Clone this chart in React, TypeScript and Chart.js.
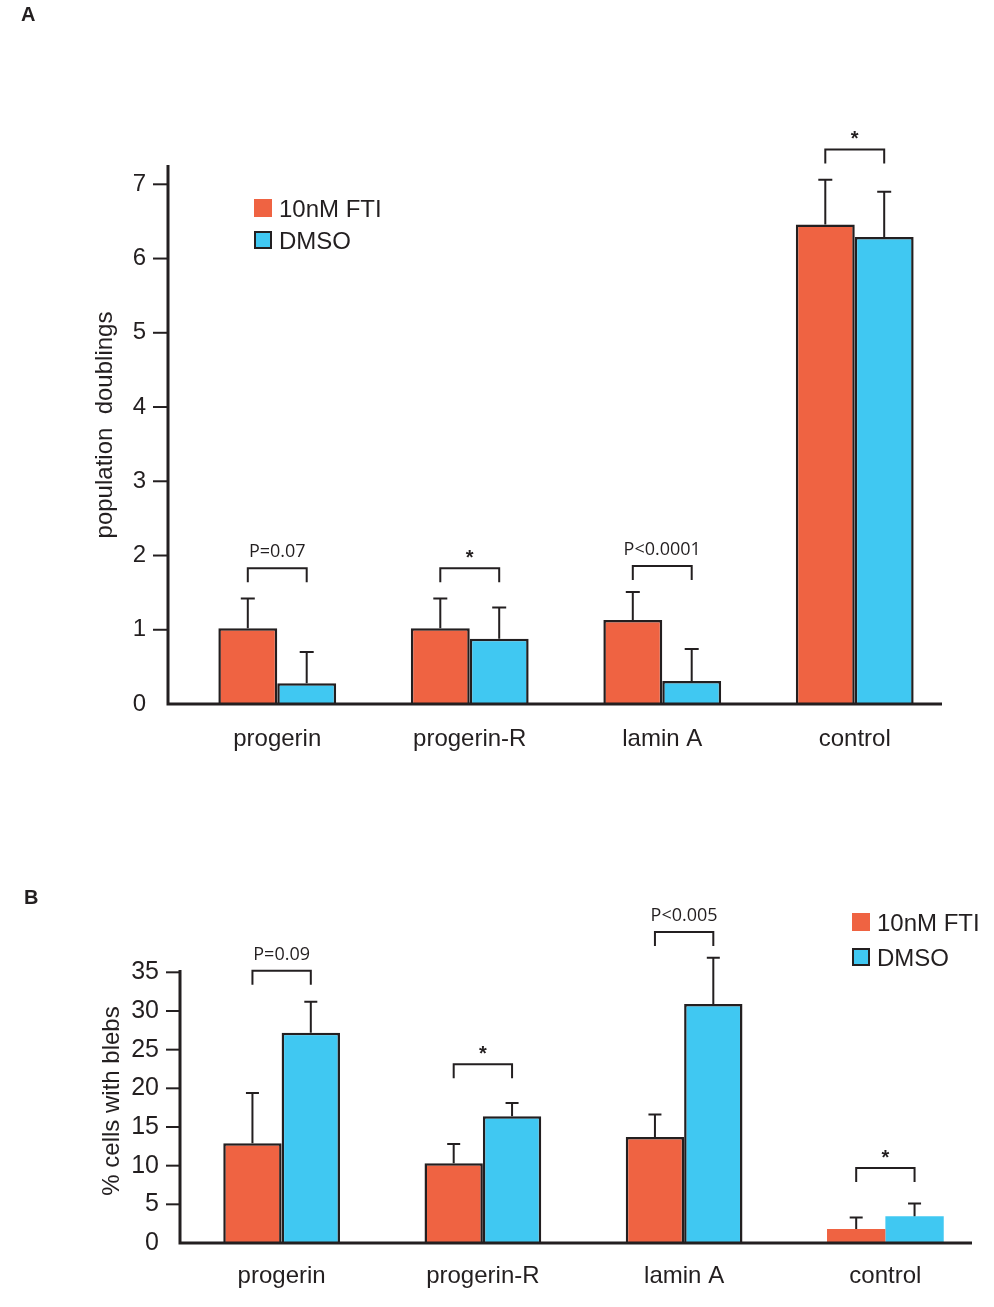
import React, { useEffect, useRef } from 'react';
import { Chart, registerables } from 'chart.js';

Chart.register(...registerables);

// ---------- shared ----------
const categories = ['progerin', 'progerin-R', 'lamin A', 'control'];
const seriesNames = ['10nM FTI', 'DMSO'];

// ---------- panel A : population doublings ----------
const aFti = [1.02, 1.02, 1.13, 6.46];
const aFtiErrTop = [1.42, 1.42, 1.51, 7.06];
const aDmso = [0.28, 0.88, 0.31, 6.29];
const aDmsoErrTop = [0.7, 1.3, 0.74, 6.9];
const aBracketLevel = [1.83, 1.83, 1.86, 7.47];
const aSigLabels = ['P=0.07', '*', 'P<0.0001', '*'];
const aTicks = [0, 1, 2, 3, 4, 5, 6, 7];
const aYMax = 7.26;
const aYTitle = 'population  doublings';

// ---------- panel B : % cells with blebs ----------
const bFti = [12.9, 10.3, 13.7, 1.8];
const bFtiErrTop = [19.4, 12.8, 16.6, 3.3];
const bDmso = [27.2, 16.4, 30.9, 3.45];
const bDmsoErrTop = [31.2, 18.1, 36.9, 5.1];
const bBracketLevel = [35.2, 23.1, 40.2, 9.7];
const bSigLabels = ['P=0.09', '*', 'P<0.005', '*'];
const bTicks = [0, 5, 10, 15, 20, 25, 30, 35];
const bYMax = 35.3;
const bYTitle = '% cells with blebs';

const ORANGE = '#EF6342';
const BLUE = '#40C8F2';
const DARK = '#231F20';
const FONT = '"Liberation Sans", Arial, Helvetica, sans-serif';
const PFONT = '"Open Sans", "Liberation Sans", sans-serif';

type PanelCfg = {
  letter: string;
  letterX: number;
  letterY: number;
  top: number;
  height: number;
  padTop: number;
  padRight: number;
  yWidth: number;
  xHeight: number;
  axisX: number;
  axisXEnd: number;
  tickLen: number;
  yLabelPad: number;
  xLabelPad: number;
  yTickSize: number;
  yTitleX: number;
  yTitleY: number;
  catPct: number;
  capW: number;
  legendX: number;
  legendY: number;
  legendGap: number;
  borderWidths: number[];
  fti: number[];
  ftiErr: number[];
  dmso: number[];
  dmsoErr: number[];
  bracket: number[];
  sig: string[];
  ticks: number[];
  yMax: number;
  yTitle: string;
};

const panelA: PanelCfg = {
  letter: 'A', letterX: 21, letterY: 21,
  top: 0, height: 780, padTop: 165, padRight: 43, yWidth: 181, xHeight: 76,
  axisX: 168, axisXEnd: 942, tickLen: 15, yLabelPad: 35, xLabelPad: 21, yTickSize: 24,
  yTitleX: 105, yTitleY: 425, catPct: 0.612, capW: 14,
  legendX: 254, legendY: 199, legendGap: 32,
  borderWidths: [2.5, 2.5, 2.5, 2.5],
  fti: aFti, ftiErr: aFtiErrTop, dmso: aDmso, dmsoErr: aDmsoErrTop,
  bracket: aBracketLevel, sig: aSigLabels, ticks: aTicks, yMax: aYMax, yTitle: aYTitle,
};

const panelB: PanelCfg = {
  letter: 'B', letterX: 24, letterY: 44,
  top: 860, height: 447, padTop: 110, padRight: 8, yWidth: 181, xHeight: 64,
  axisX: 180, axisXEnd: 972, tickLen: 14, yLabelPad: 22, xLabelPad: 19, yTickSize: 25,
  yTitleX: 112, yTitleY: 241, catPct: 0.58, capW: 13,
  legendX: 852, legendY: 53, legendGap: 35,
  borderWidths: [2.5, 2.5, 2.5, 0],
  fti: bFti, ftiErr: bFtiErrTop, dmso: bDmso, dmsoErr: bDmsoErrTop,
  bracket: bBracketLevel, sig: bSigLabels, ticks: bTicks, yMax: bYMax, yTitle: bYTitle,
};

function makeDecor(cfg: PanelCfg) {
  return {
    id: 'decor' + cfg.letter,
    afterDatasetsDraw(chart: any) {
      const ctx = chart.ctx as CanvasRenderingContext2D;
      const area = chart.chartArea;
      const ys = chart.scales.y;
      ctx.save();
      ctx.strokeStyle = DARK;
      ctx.fillStyle = DARK;
      ctx.lineCap = 'butt';

      // error bars
      const errs = [cfg.ftiErr, cfg.dmsoErr];
      [0, 1].forEach((di) => {
        const meta = chart.getDatasetMeta(di);
        meta.data.forEach((el: any, i: number) => {
          const yTop = ys.getPixelForValue(errs[di][i]);
          ctx.lineWidth = 2;
          ctx.beginPath();
          ctx.moveTo(el.x, el.y);
          ctx.lineTo(el.x, yTop);
          ctx.moveTo(el.x - cfg.capW / 2, yTop);
          ctx.lineTo(el.x + cfg.capW / 2, yTop);
          ctx.stroke();
        });
      });

      // axes
      ctx.lineWidth = 3;
      ctx.beginPath();
      ctx.moveTo(cfg.axisX, area.top);
      ctx.lineTo(cfg.axisX, area.bottom + 1.5);
      ctx.moveTo(cfg.axisX - 1.5, area.bottom);
      ctx.lineTo(cfg.axisXEnd, area.bottom);
      ctx.stroke();
      ctx.lineWidth = 2;
      cfg.ticks.forEach((t) => {
        if (t === 0) return;
        const y = ys.getPixelForValue(t);
        ctx.beginPath();
        ctx.moveTo(cfg.axisX - cfg.tickLen, y);
        ctx.lineTo(cfg.axisX, y);
        ctx.stroke();
      });

      // brackets + significance labels
      const m0 = chart.getDatasetMeta(0);
      const m1 = chart.getDatasetMeta(1);
      cfg.bracket.forEach((lvl, i) => {
        const x1 = m0.data[i].x;
        const x2 = m1.data[i].x;
        const b = ys.getPixelForValue(lvl);
        ctx.lineWidth = 2;
        ctx.beginPath();
        ctx.moveTo(x1, b + 14);
        ctx.lineTo(x1, b);
        ctx.lineTo(x2, b);
        ctx.lineTo(x2, b + 14);
        ctx.stroke();
        const cx = (x1 + x2) / 2;
        const label = cfg.sig[i];
        ctx.textAlign = 'center';
        ctx.textBaseline = 'alphabetic';
        if (label === '*') {
          ctx.font = 'bold 20px ' + FONT;
          ctx.fillText(label, cx, b - 4);
        } else {
          ctx.font = '18px ' + PFONT;
          ctx.fillText(label, cx, b - 11);
        }
      });

      // y-axis title
      ctx.save();
      ctx.translate(cfg.yTitleX, cfg.yTitleY);
      ctx.rotate(-Math.PI / 2);
      ctx.textAlign = 'center';
      ctx.textBaseline = 'middle';
      ctx.font = '24px ' + FONT;
      ctx.fillText(cfg.yTitle, 0, 0);
      ctx.restore();

      // legend
      const sq = 18;
      ctx.fillStyle = ORANGE;
      ctx.fillRect(cfg.legendX, cfg.legendY, sq, sq);
      ctx.fillStyle = BLUE;
      ctx.fillRect(cfg.legendX, cfg.legendY + cfg.legendGap, sq, sq);
      ctx.lineWidth = 2;
      ctx.strokeStyle = DARK;
      ctx.strokeRect(cfg.legendX + 1, cfg.legendY + cfg.legendGap + 1, sq - 2, sq - 2);
      ctx.fillStyle = DARK;
      ctx.font = '24px ' + FONT;
      ctx.textAlign = 'left';
      ctx.textBaseline = 'alphabetic';
      ctx.fillText(seriesNames[0], cfg.legendX + sq + 7, cfg.legendY + sq);
      ctx.fillText(seriesNames[1], cfg.legendX + sq + 7, cfg.legendY + cfg.legendGap + sq);

      // panel letter
      ctx.font = 'bold 20px ' + FONT;
      ctx.fillText(cfg.letter, cfg.letterX, cfg.letterY);

      ctx.restore();
    },
  };
}

function Panel({ cfg }: { cfg: PanelCfg }) {
  const ref = useRef<HTMLCanvasElement | null>(null);
  useEffect(() => {
    if (!ref.current) return;
    const chart = new Chart(ref.current, {
      type: 'bar',
      data: {
        labels: categories,
        datasets: [
          {
            label: seriesNames[0],
            data: cfg.fti,
            backgroundColor: ORANGE,
            borderColor: DARK,
            borderWidth: cfg.borderWidths,
            barPercentage: 1.0,
            categoryPercentage: cfg.catPct,
          },
          {
            label: seriesNames[1],
            data: cfg.dmso,
            backgroundColor: BLUE,
            borderColor: DARK,
            borderWidth: cfg.borderWidths,
            barPercentage: 1.0,
            categoryPercentage: cfg.catPct,
          },
        ],
      },
      options: {
        responsive: false,
        animation: false,
        devicePixelRatio: 1,
        layout: { padding: { top: cfg.padTop, right: cfg.padRight, left: 0, bottom: 0 } },
        plugins: { legend: { display: false }, tooltip: { enabled: false } },
        scales: {
          x: {
            type: 'category',
            offset: true,
            grid: { display: false, drawTicks: false },
            border: { display: false },
            ticks: {
              color: DARK,
              font: { family: FONT, size: 24 },
              padding: cfg.xLabelPad,
              maxRotation: 0,
              autoSkip: false,
            },
            afterFit: (s: any) => {
              s.height = cfg.xHeight;
            },
          },
          y: {
            type: 'linear',
            min: 0,
            max: cfg.yMax,
            grid: { display: false, drawTicks: false },
            border: { display: false },
            ticks: {
              color: DARK,
              font: { family: FONT, size: cfg.yTickSize },
              padding: cfg.yLabelPad,
            },
            afterBuildTicks: (s: any) => {
              s.ticks = cfg.ticks.map((v) => ({ value: v }));
            },
            afterFit: (s: any) => {
              s.width = cfg.yWidth;
            },
          },
        },
      } as any,
      plugins: [makeDecor(cfg)],
    });
    return () => chart.destroy();
  }, [cfg]);
  return (
    <canvas
      ref={ref}
      width={994}
      height={cfg.height}
      style={{ position: 'absolute', left: 0, top: cfg.top, width: 994, height: cfg.height }}
    />
  );
}

export default function App() {
  return (
    <div style={{ position: 'absolute', left: 0, top: 0, width: 994, height: 1307, background: '#fff' }}>
      <Panel cfg={panelA} />
      <Panel cfg={panelB} />
    </div>
  );
}
